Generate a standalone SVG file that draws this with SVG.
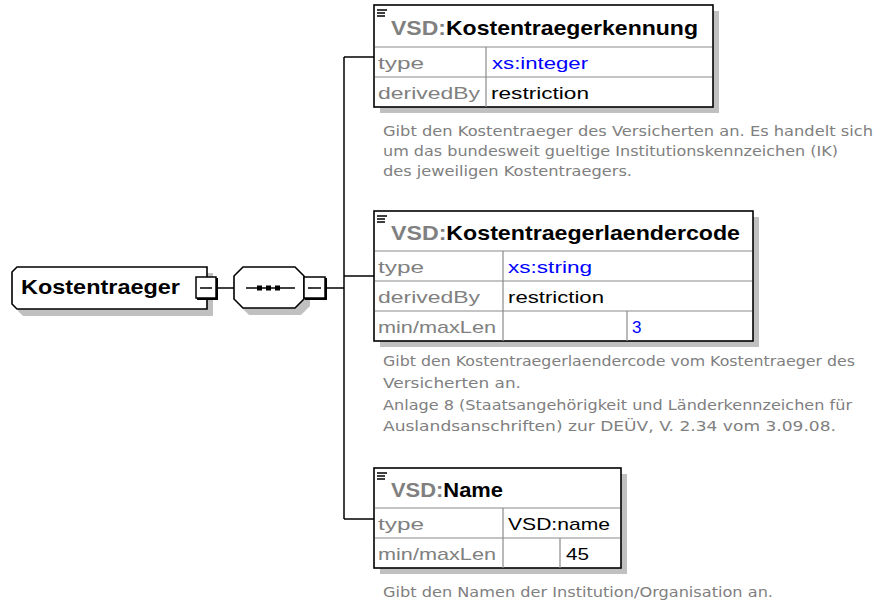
<svg xmlns="http://www.w3.org/2000/svg" width="879" height="604" viewBox="0 0 879 604">
<style>
.bg{fill:#fff}
.sh{fill:#c0c0c0}
.box{fill:#fff;stroke:#000;stroke-width:1.6}
.sep{stroke:#8a8a8a;stroke-width:1.2;fill:none}
.ln{stroke:#000;stroke-width:1.5;fill:none}
.ico{stroke:#000;stroke-width:1.4;fill:none}
.ttl{font-family:"Liberation Sans",Arial,sans-serif;font-weight:bold;font-size:21px;fill:#000}
.pre{fill:#808080}
.lbl{font-family:"Liberation Sans",Arial,sans-serif;font-size:17px;fill:#808080}
.val{font-family:"Liberation Sans",Arial,sans-serif;font-size:17px;fill:#000}
.blue{fill:#0000ff}
.desc{font-family:"DejaVu Sans",Verdana,sans-serif;font-size:14.5px;fill:#808080}
</style>
<rect class="bg" x="0" y="0" width="879" height="604"/>

<g id="connectors">
<line class="ln" x1="217" y1="288" x2="234" y2="288"/>
<line class="ln" x1="326" y1="288" x2="344" y2="288"/>
<line class="ln" x1="344" y1="57" x2="344" y2="519"/>
<line class="ln" x1="344" y1="57" x2="374" y2="57"/>
<line class="ln" x1="344" y1="276" x2="374" y2="276"/>
<line class="ln" x1="344" y1="519" x2="374" y2="519"/>
</g>

<g id="Kostentraeger">
<path class="sh" d="M23 273 H213 V316 H23 L18 311 V278 Z"/>
<path class="box" d="M17 267 H207 V309 H17 L12 304 V272 Z"/>
<text class="ttl" x="21" y="294" font-size="19" textLength="159" lengthAdjust="spacingAndGlyphs">Kostentraeger</text>
<rect x="196" y="277" width="20" height="21" fill="#fff" stroke="#000" stroke-width="1.5"/>
<path d="M217 278 V299 H197" stroke="#000" stroke-width="2" fill="none"/>
<line x1="200" y1="288" x2="212" y2="288" stroke="#000" stroke-width="1.5"/>
</g>

<g id="sequence">
<path class="sh" d="M249 273 H301 L310 282 V306 L301 315 H249 L240 306 V282 Z"/>
<path class="box" d="M243 267 H295 L304 276 V299 L295 308 H243 L234 299 V276 Z"/>
<line x1="246" y1="288" x2="295" y2="288" stroke="#000" stroke-width="1.5"/>
<rect x="257" y="285.5" width="5" height="5" fill="#000"/>
<rect x="266" y="285.5" width="5" height="5" fill="#000"/>
<rect x="275" y="285.5" width="5" height="5" fill="#000"/>
<rect x="304" y="277" width="21" height="21" fill="#fff" stroke="#000" stroke-width="1.5"/>
<path d="M326 278 V299 H305" stroke="#000" stroke-width="2" fill="none"/>
<line x1="308" y1="288" x2="321" y2="288" stroke="#000" stroke-width="1.5"/>
</g>

<g id="Kostentraegerkennung">
<rect class="sh" x="380" y="11" width="339" height="102"/>
<rect class="box" x="374" y="5" width="339" height="102"/>
<line class="sep" x1="375" y1="47" x2="712" y2="47"/>
<line class="sep" x1="375" y1="77" x2="712" y2="77"/>
<line class="sep" x1="486" y1="47" x2="486" y2="107"/>
<path class="ico" d="M377 10 H387 M377 13 H385 M377 16 H385"/>
<text class="ttl" x="391" y="35" textLength="307" lengthAdjust="spacingAndGlyphs"><tspan class="pre">VSD:</tspan>Kostentraegerkennung</text>
<text class="lbl" x="378" y="69" textLength="46" lengthAdjust="spacingAndGlyphs">type</text>
<text class="val blue" x="492" y="69" textLength="96" lengthAdjust="spacingAndGlyphs">xs:integer</text>
<text class="lbl" x="378" y="99" textLength="102" lengthAdjust="spacingAndGlyphs">derivedBy</text>
<text class="val" x="491" y="99" textLength="98" lengthAdjust="spacingAndGlyphs">restriction</text>
<text class="desc" x="383" y="136" textLength="490" lengthAdjust="spacingAndGlyphs">Gibt den Kostentraeger des Versicherten an. Es handelt sich</text>
<text class="desc" x="383" y="156" textLength="455" lengthAdjust="spacingAndGlyphs">um das bundesweit gueltige Institutionskennzeichen (IK)</text>
<text class="desc" x="383" y="176" textLength="249" lengthAdjust="spacingAndGlyphs">des jeweiligen Kostentraegers.</text>
</g>

<g id="Kostentraegerlaendercode">
<rect class="sh" x="380" y="217" width="379" height="130"/>
<rect class="box" x="374" y="211" width="379" height="130"/>
<line class="sep" x1="375" y1="251" x2="752" y2="251"/>
<line class="sep" x1="375" y1="281" x2="752" y2="281"/>
<line class="sep" x1="375" y1="311" x2="752" y2="311"/>
<line class="sep" x1="503" y1="251" x2="503" y2="341"/>
<line class="sep" x1="627" y1="311" x2="627" y2="341"/>
<path class="ico" d="M377 216 H387 M377 219 H385 M377 222 H385"/>
<text class="ttl" x="391" y="240" textLength="349" lengthAdjust="spacingAndGlyphs"><tspan class="pre">VSD:</tspan>Kostentraegerlaendercode</text>
<text class="lbl" x="378" y="273" textLength="46" lengthAdjust="spacingAndGlyphs">type</text>
<text class="val blue" x="508" y="273" textLength="84" lengthAdjust="spacingAndGlyphs">xs:string</text>
<text class="lbl" x="378" y="303" textLength="102" lengthAdjust="spacingAndGlyphs">derivedBy</text>
<text class="val" x="508" y="303" textLength="96" lengthAdjust="spacingAndGlyphs">restriction</text>
<text class="lbl" x="378" y="333" textLength="118" lengthAdjust="spacingAndGlyphs">min/maxLen</text>
<text class="val blue" x="632" y="333">3</text>
<text class="desc" x="383" y="366" textLength="472" lengthAdjust="spacingAndGlyphs">Gibt den Kostentraegerlaendercode vom Kostentraeger des</text>
<text class="desc" x="383" y="388" textLength="138" lengthAdjust="spacingAndGlyphs">Versicherten an.</text>
<text class="desc" x="383" y="410" textLength="469" lengthAdjust="spacingAndGlyphs">Anlage 8 (Staatsangehörigkeit und Länderkennzeichen für</text>
<text class="desc" x="383" y="431" textLength="453" lengthAdjust="spacingAndGlyphs">Auslandsanschriften) zur DEÜV, V. 2.34 vom 3.09.08.</text>
</g>

<g id="Name">
<rect class="sh" x="380" y="474" width="247" height="100"/>
<rect class="box" x="374" y="468" width="247" height="100"/>
<line class="sep" x1="375" y1="508" x2="620" y2="508"/>
<line class="sep" x1="375" y1="538" x2="620" y2="538"/>
<line class="sep" x1="503" y1="508" x2="503" y2="568"/>
<line class="sep" x1="560" y1="538" x2="560" y2="568"/>
<path class="ico" d="M377 473 H387 M377 476 H385 M377 479 H385"/>
<text class="ttl" x="391" y="497" textLength="112" lengthAdjust="spacingAndGlyphs"><tspan class="pre">VSD:</tspan>Name</text>
<text class="lbl" x="378" y="530" textLength="46" lengthAdjust="spacingAndGlyphs">type</text>
<text class="val" x="508" y="530" textLength="102" lengthAdjust="spacingAndGlyphs">VSD:name</text>
<text class="lbl" x="378" y="560" textLength="118" lengthAdjust="spacingAndGlyphs">min/maxLen</text>
<text class="val" x="566" y="560" textLength="23" lengthAdjust="spacingAndGlyphs">45</text>
<text class="desc" x="383" y="597" textLength="390" lengthAdjust="spacingAndGlyphs">Gibt den Namen der Institution/Organisation an.</text>
</g>
</svg>
